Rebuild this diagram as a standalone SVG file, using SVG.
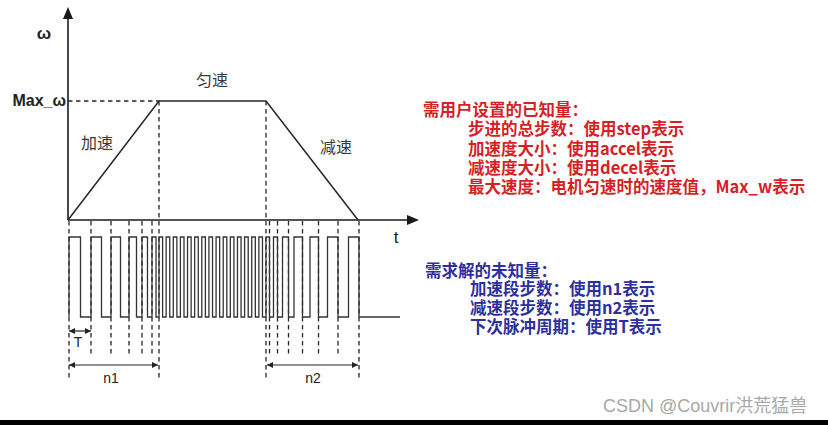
<svg xmlns="http://www.w3.org/2000/svg" width="828" height="425" viewBox="0 0 828 425">
<defs>
<style>
.ax{stroke:#1a1a1a;stroke-width:1.6;fill:none}
.ln{stroke:#262626;stroke-width:1.5;fill:none}
.ds{stroke:#262626;stroke-width:1.3;stroke-dasharray:4.5 3.5;fill:none}
.pl{stroke:#333;stroke-width:1.3;fill:none;stroke-linejoin:miter}
.dim{stroke:#222;stroke-width:1.2;fill:none;marker-start:url(#ah);marker-end:url(#ah)}
.lbl{font-family:"Noto Sans CJK SC","Liberation Sans",sans-serif;font-size:16px;fill:#3a3a3a}
.lat{font-family:"Liberation Sans","Noto Sans CJK SC",sans-serif;fill:#222}
.red{font-family:"Noto Sans CJK SC",sans-serif;font-size:16.5px;font-weight:bold;fill:#d61f26}
.blu{font-family:"Noto Sans CJK SC",sans-serif;font-size:16.5px;font-weight:bold;fill:#2d2f9c}
</style>
<marker id="ah" viewBox="0 0 10 10" refX="10" refY="5" markerWidth="6" markerHeight="6" markerUnits="userSpaceOnUse" orient="auto-start-reverse">
<path d="M0,0 L10,5 L0,10 z" fill="#222"/>
</marker>
</defs>
<rect width="828" height="425" fill="#fff"/>

<g id="axes">
<line class="ax" x1="68" y1="220" x2="68" y2="16"/>
<polygon points="68,7 63,19 73,19" fill="#1a1a1a"/>
<line class="ax" x1="68" y1="220" x2="410" y2="220"/>
<polygon points="419,220 407,215 407,225" fill="#1a1a1a"/>
<text class="lat" x="44" y="39" font-size="17" font-weight="bold" text-anchor="middle">ω</text>
<text class="lat" x="66" y="106" font-size="16" font-weight="bold" text-anchor="end">Max_ω</text>
<text class="lat" x="396" y="243" font-size="17" text-anchor="middle">t</text>
</g>

<g id="profile">
<polyline class="ln" points="68,220 159,101 266,101 358,220"/>
<text class="lbl" x="212" y="86" text-anchor="middle">匀速</text>
<text class="lbl" x="97" y="149" text-anchor="middle">加速</text>
<text class="lbl" x="336" y="153" text-anchor="middle">减速</text>
</g>

<g id="guides">
<line class="ds" x1="68" y1="101" x2="159" y2="101"/>
<line class="ds" x1="159" y1="101" x2="159" y2="378"/>
<line class="ds" x1="266" y1="101" x2="266" y2="380"/>
<line class="ds" x1="69" y1="221" x2="69" y2="380"/>
<line class="ds" x1="359" y1="221" x2="359" y2="380"/>
<g>
<line class="ds" x1="91" y1="221" x2="91" y2="355"/>
<line class="ds" x1="111" y1="221" x2="111" y2="355"/>
<line class="ds" x1="129" y1="221" x2="129" y2="355"/>
<line class="ds" x1="142" y1="221" x2="142" y2="355"/>
<line class="ds" x1="152" y1="221" x2="152" y2="355"/>
<line class="ds" x1="269.5" y1="221" x2="269.5" y2="355"/>
<line class="ds" x1="277.5" y1="221" x2="277.5" y2="355"/>
<line class="ds" x1="288.5" y1="221" x2="288.5" y2="355"/>
<line class="ds" x1="302.5" y1="221" x2="302.5" y2="355"/>
<line class="ds" x1="318.5" y1="221" x2="318.5" y2="355"/>
<line class="ds" x1="338" y1="221" x2="338" y2="355"/>
</g>
</g>

<g id="pulses">
<path class="pl" d="M69,317 V237 H80.5 V317 H91 V237 H101.5 V317 H111 V237 H120.5 V317 H129 V237 H136.5 V317 H142 V237 H147.5 V317 H152 V237 H156 V317 H159
V237 H162.6 V317 H166.13 V237 H169.73 V317 H173.27 V237 H176.87 V317 H180.4 V237 H184 V317 H187.53 V237 H191.13 V317 H194.67 V237 H198.27 V317 H201.8 V237 H205.4 V317 H208.93 V237 H212.53 V317 H216.07 V237 H219.67 V317 H223.2 V237 H226.8 V317 H230.33 V237 H233.93 V317 H237.47 V237 H241.07 V317 H244.6 V237 H248.2 V317 H251.73 V237 H255.33 V317 H258.87 V237 H262.47 V317 H266
V237 H269.5 V317 H273.5 V237 H277.5 V317 H282.5 V237 H288.5 V317 H294 V237 H302.5 V317 H310 V237 H318.5 V317 H327.5 V237 H338 V317 H348.5 V237 H359 V317 H400"/>
</g>

<g id="dimensions">
<line class="dim" x1="69" y1="331" x2="91" y2="331"/>
<text class="lat" x="78" y="347" font-size="14" text-anchor="middle" fill="#333">T</text>
<line class="dim" x1="69" y1="365" x2="158" y2="365"/>
<text class="lat" x="111" y="383" font-size="14" text-anchor="middle" fill="#333">n1</text>
<line class="dim" x1="267" y1="365" x2="358" y2="365"/>
<text class="lat" x="313" y="383" font-size="14" text-anchor="middle" fill="#333">n2</text>
</g>

<g id="known">
<text class="red" x="423" y="116">需用户设置的已知量：</text>
<text class="red" x="468" y="135">步进的总步数：使用step表示</text>
<text class="red" x="468" y="155">加速度大小：使用accel表示</text>
<text class="red" x="468" y="174">减速度大小：使用decel表示</text>
<text class="red" x="468" y="193">最大速度：电机匀速时的速度值，Max_w表示</text>
</g>

<g id="unknown">
<text class="blu" x="425" y="277">需求解的未知量：</text>
<text class="blu" x="470" y="295">加速段步数：使用n1表示</text>
<text class="blu" x="470" y="314">减速段步数：使用n2表示</text>
<text class="blu" x="470" y="333">下次脉冲周期：使用T表示</text>
</g>

<g id="watermark">
<text x="603" y="412" font-family="Liberation Sans,Noto Sans CJK SC,sans-serif" font-size="18" fill="#a8a8a8">CSDN @Couvrir洪荒猛兽</text>
</g>
<rect x="0" y="420" width="828" height="5" fill="#000"/>
</svg>
